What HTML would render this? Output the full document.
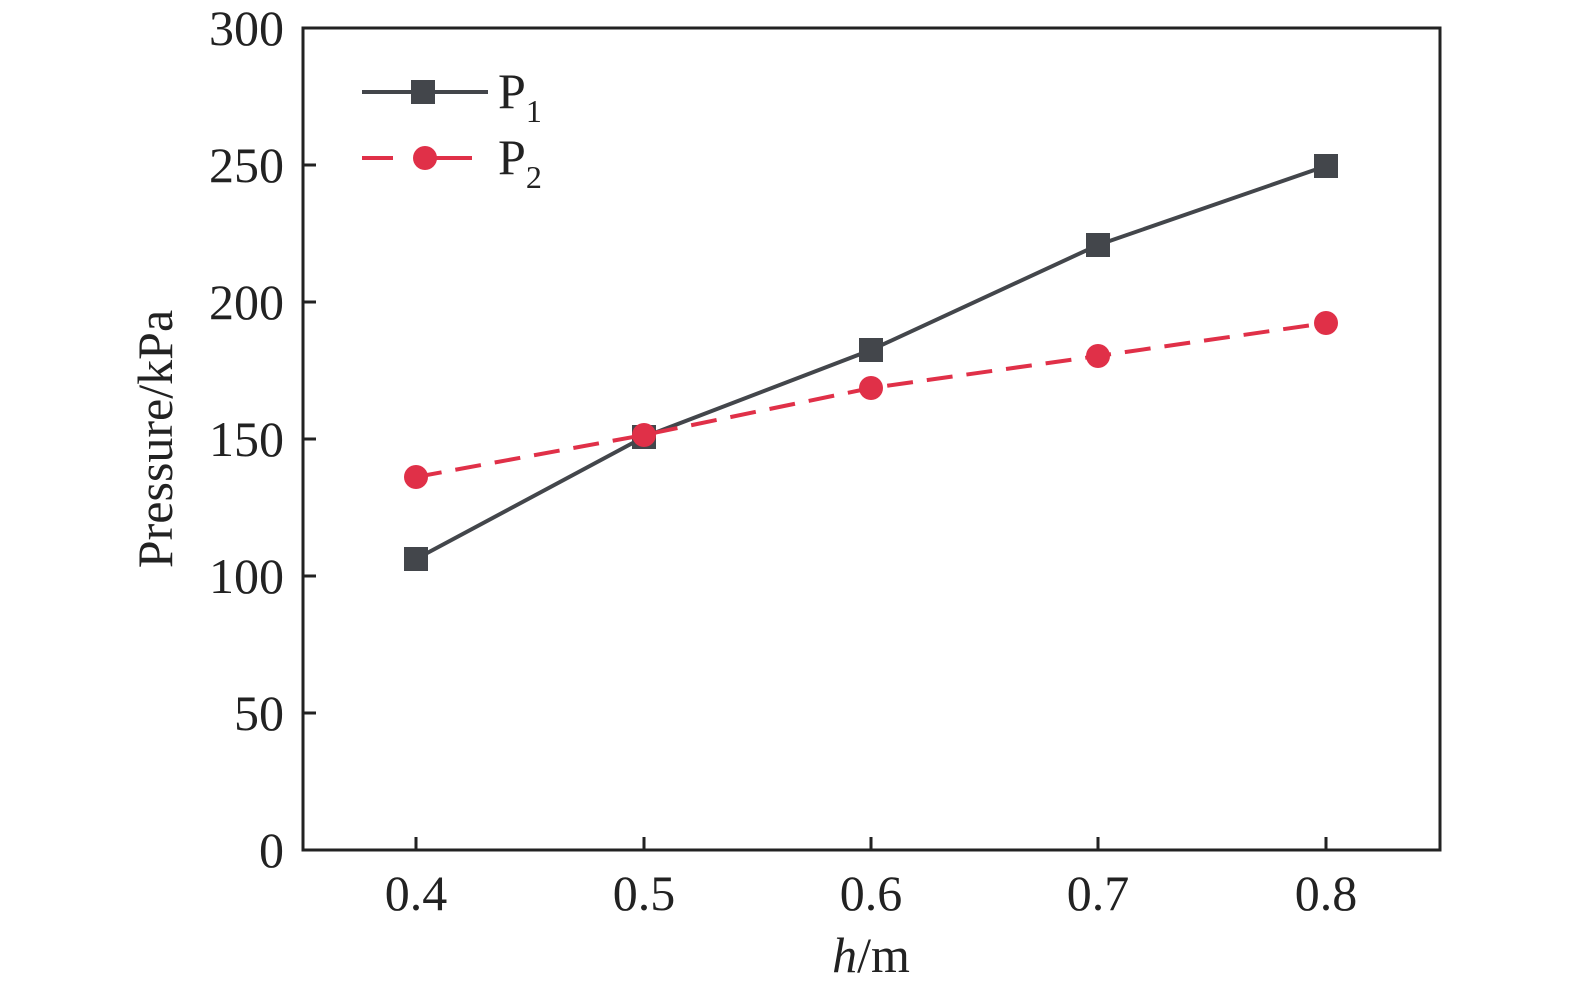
<!DOCTYPE html><html><head><style>body{margin:0;background:#fff} svg text{font-family:"Liberation Serif",serif}</style></head><body>
<svg width="1575" height="994" xmlns="http://www.w3.org/2000/svg" fill="#222">
<rect x="303" y="28" width="1137" height="822" fill="none" stroke="#222" stroke-width="3"/>
<g stroke="#222" stroke-width="3">
<line x1="303" y1="713" x2="316" y2="713"/><line x1="303" y1="576" x2="316" y2="576"/><line x1="303" y1="439" x2="316" y2="439"/><line x1="303" y1="302" x2="316" y2="302"/><line x1="303" y1="165" x2="316" y2="165"/>
<line x1="416" y1="850" x2="416" y2="837"/><line x1="644" y1="850" x2="644" y2="837"/><line x1="871" y1="850" x2="871" y2="837"/><line x1="1098" y1="850" x2="1098" y2="837"/><line x1="1326" y1="850" x2="1326" y2="837"/>
</g>
<g font-size="50" text-anchor="end">
<text x="284" y="867">0</text><text x="284" y="730">50</text><text x="284" y="593">100</text><text x="284" y="456">150</text><text x="284" y="319">200</text><text x="284" y="182">250</text><text x="284" y="45">300</text>
</g>
<g font-size="50" text-anchor="middle">
<text x="416" y="910">0.4</text><text x="644" y="910">0.5</text><text x="871" y="910">0.6</text><text x="1098" y="910">0.7</text><text x="1326" y="910">0.8</text>
<text x="871" y="972"><tspan font-style="italic">h</tspan>/m</text>
<text transform="translate(172,439) rotate(-90)">Pressure/kPa</text>
</g>
<polyline points="416,559 644,437 871,350 1098,245 1326,166" fill="none" stroke="#43464b" stroke-width="4"/>
<g fill="#43464b"><rect x="404" y="547" width="24" height="24"/><rect x="632" y="425" width="24" height="24"/><rect x="859" y="338" width="24" height="24"/><rect x="1086" y="233" width="24" height="24"/><rect x="1314" y="154" width="24" height="24"/></g>
<polyline points="416,477 644,435 871,388 1098,356 1326,323" fill="none" stroke="#e03048" stroke-width="4" stroke-dasharray="26,14"/>
<g fill="#e03048"><circle cx="416" cy="477" r="12"/><circle cx="644" cy="435" r="12"/><circle cx="871" cy="388" r="12"/><circle cx="1098" cy="356" r="12"/><circle cx="1326" cy="323" r="12"/></g>
<line x1="362" y1="92" x2="488" y2="92" stroke="#43464b" stroke-width="4"/><rect x="411" y="80" width="24" height="24" fill="#43464b"/>
<line x1="362" y1="158" x2="393" y2="158" stroke="#e03048" stroke-width="4"/><line x1="433" y1="158" x2="472" y2="158" stroke="#e03048" stroke-width="4"/><circle cx="425" cy="158" r="12" fill="#e03048"/>
<text x="498" y="108" font-size="50">P<tspan font-size="32" dy="14">1</tspan></text>
<text x="498" y="174" font-size="50">P<tspan font-size="32" dy="14">2</tspan></text>
</svg></body></html>
